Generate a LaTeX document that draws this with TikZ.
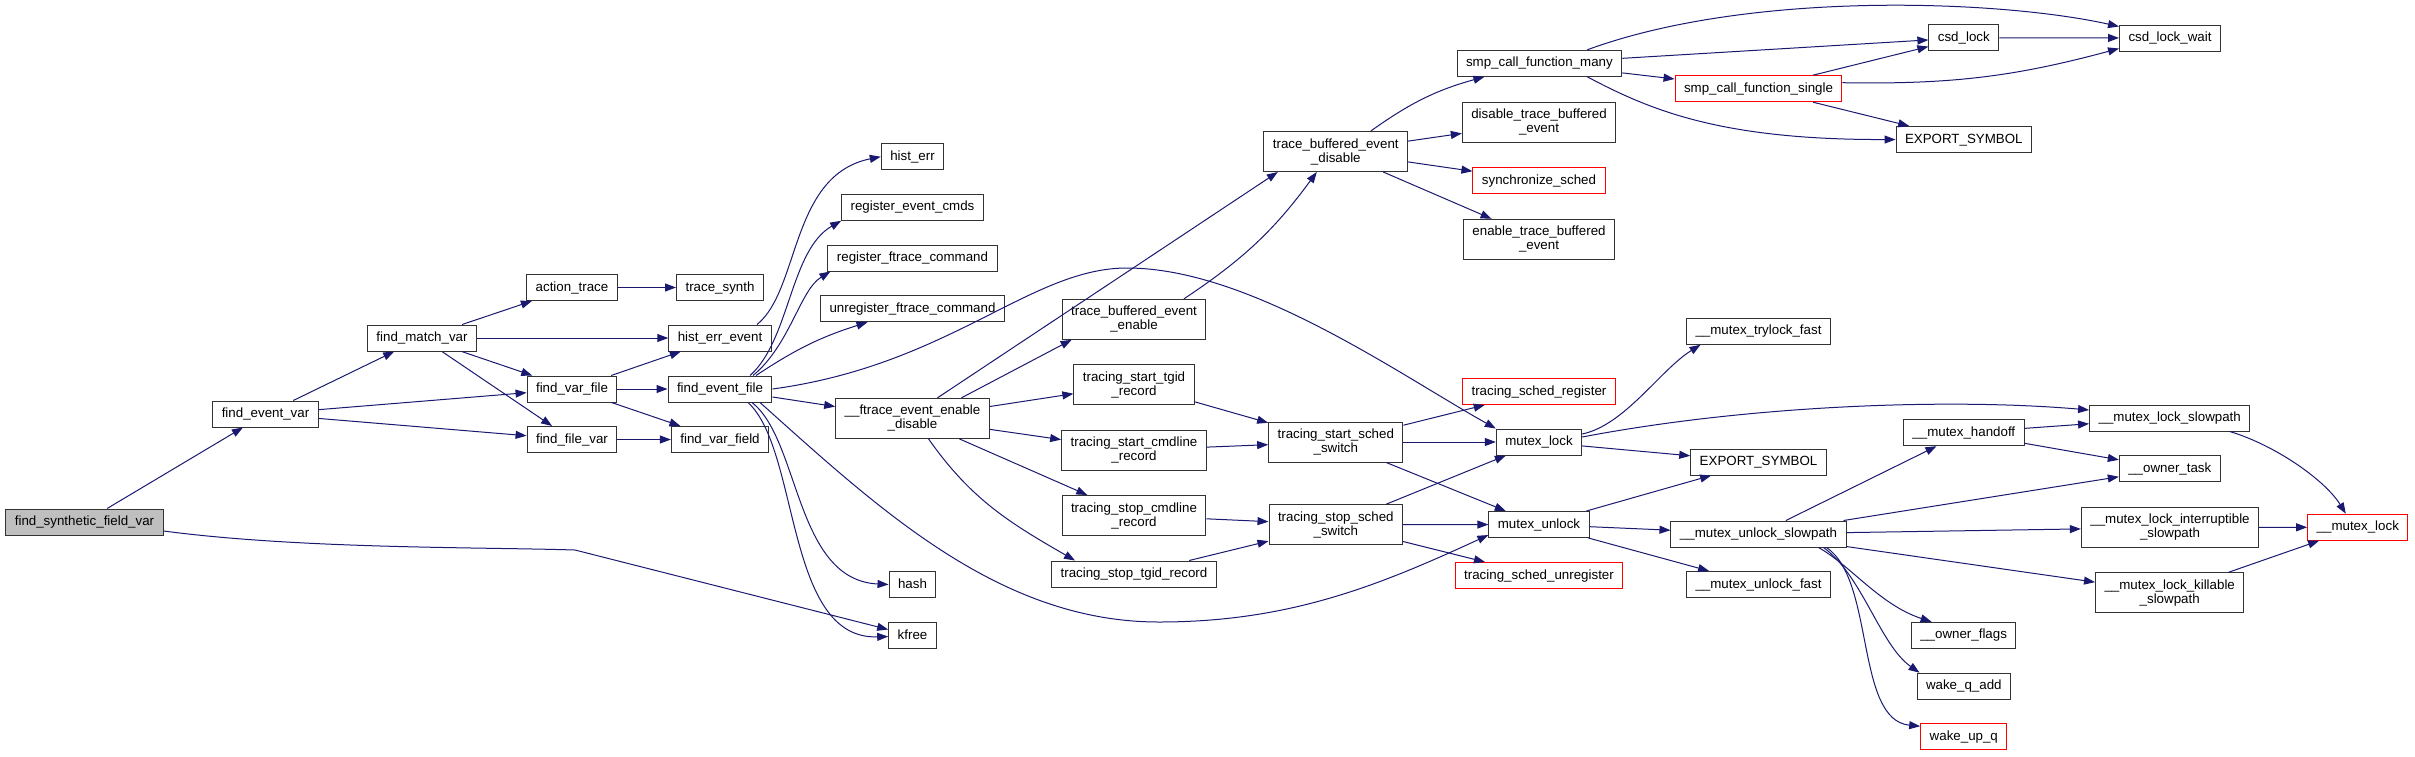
\documentclass[tikz,border=0pt]{standalone}
\usepackage{fontspec}
\setmainfont{Liberation Sans}
\usepackage{xcolor}
\usepackage{tikz}
\usetikzlibrary{arrows.meta}
\definecolor{CGblue}{RGB}{25,25,112}
\definecolor{CGgray}{RGB}{191,191,191}
\definecolor{CGred}{RGB}{255,0,0}
\tikzset{
  fn/.style={draw=black!80, line width=1pt, fill=white, inner xsep=9pt, inner ysep=0pt,
    minimum height=26pt, font=\fontsize{13.33}{14}\selectfont, text height=10pt, text depth=3pt},
  fnn/.style={draw=black!80, line width=1pt, fill=white, inner xsep=9pt, inner ysep=0pt,
    minimum height=40pt, font=\fontsize{13.33}{14}\selectfont, align=center},
  ext/.style={draw=CGred},
  root/.style={fill=CGgray},
  calls/.style={draw=CGblue, line width=1pt, -{Triangle[length=11pt,width=8pt]}}
}

\begin{document}
\begin{tikzpicture}[x=1pt, y=1pt]
        \useasboundingbox (0,0) rectangle (2415,-756);
        \node[fn, root] (synth) at (84.5,-522) {find\_synthetic\_field\_var};
        \node[fn] (evvar) at (265.5,-414) {find\_event\_var};
        \node[fn] (matchvar) at (422,-338) {find\_match\_var};
        \node[fn] (acttrace) at (572,-287.5) {action\_trace};
        \node[fn] (tsynth) at (720,-287.5) {trace\_synth};
        \node[fn] (histev) at (720,-338) {hist\_err\_event};
        \node[fn] (varfile) at (572,-389) {find\_var\_file};
        \node[fn] (evfile) at (720,-389) {find\_event\_file};
        \node[fn] (filevar) at (572,-439.5) {find\_file\_var};
        \node[fn] (varfield) at (720,-439.5) {find\_var\_field};
        \node[fn] (histerr) at (912.5,-156.7) {hist\_err};
        \node[fn] (regcmds) at (912.5,-207.3) {register\_event\_cmds};
        \node[fn] (regft) at (912.5,-258) {register\_ftrace\_command};
        \node[fn] (unregft) at (912.5,-308.7) {unregister\_ftrace\_command};
        \node[fnn] (ftrace) at (912.5,-418.3) {\_\_ftrace\_event\_enable\\\_disable};
        \node[fn] (hash) at (912.5,-584.5) {hash};
        \node[fn] (kfree) at (912.5,-635.5) {kfree};
        \node[fnn] (tbeenable) at (1134,-319.3) {trace\_buffered\_event\\\_enable};
        \node[fnn] (startgid) at (1134,-384.5) {tracing\_start\_tgid\\\_record};
        \node[fnn] (startcmd) at (1134,-450) {tracing\_start\_cmdline\\\_record};
        \node[fnn] (stopcmd) at (1134,-515.5) {tracing\_stop\_cmdline\\\_record};
        \node[fn] (stopgid) at (1134,-574) {tracing\_stop\_tgid\_record};
        \node[fnn] (tbedisable) at (1335.8,-151.5) {trace\_buffered\_event\\\_disable};
        \node[fnn] (startsw) at (1335.8,-442) {tracing\_start\_sched\\\_switch};
        \node[fnn] (stopsw) at (1335.8,-524.7) {tracing\_stop\_sched\\\_switch};
        \node[fn] (smpmany) at (1539.4,-63.3) {smp\_call\_function\_many};
        \node[fnn] (distbe) at (1539,-122.3) {disable\_trace\_buffered\\\_event};
        \node[fn, ext] (syncsched) at (1539,-180.8) {synchronize\_sched};
        \node[fnn] (entbe) at (1539,-239.3) {enable\_trace\_buffered\\\_event};
        \node[fn, ext] (schedreg) at (1539,-391.5) {tracing\_sched\_register};
        \node[fn] (mlock) at (1539,-442) {mutex\_lock};
        \node[fn] (munlock) at (1539,-524.5) {mutex\_unlock};
        \node[fn, ext] (schedunreg) at (1539,-575.5) {tracing\_sched\_unregister};
        \node[fn, ext] (smpsingle) at (1758.5,-88.7) {smp\_call\_function\_single};
        \node[fn] (trylock) at (1758.5,-331.3) {\_\_mutex\_trylock\_fast};
        \node[fn] (exportb) at (1758.5,-462) {EXPORT\_SYMBOL};
        \node[fn] (unlockslow) at (1758.5,-534) {\_\_mutex\_unlock\_slowpath};
        \node[fn] (unlockfast) at (1758.5,-584.5) {\_\_mutex\_unlock\_fast};
        \node[fn] (csdlock) at (1963.8,-37.8) {csd\_lock};
        \node[fn] (exportt) at (1963.8,-139.5) {EXPORT\_SYMBOL};
        \node[fn] (handoff) at (1963.8,-432.7) {\_\_mutex\_handoff};
        \node[fn] (ownflags) at (1963.6,-635.3) {\_\_owner\_flags};
        \node[fn] (wakeadd) at (1963.8,-686.2) {wake\_q\_add};
        \node[fn, ext] (wakeup) at (1963.8,-736.7) {wake\_up\_q};
        \node[fn] (csdwait) at (2170,-38) {csd\_lock\_wait};
        \node[fn] (lockslow) at (2169.7,-418) {\_\_mutex\_lock\_slowpath};
        \node[fn] (owntask) at (2169.8,-468.7) {\_\_owner\_task};
        \node[fnn] (lockintr) at (2170,-527.5) {\_\_mutex\_lock\_interruptible\\\_slowpath};
        \node[fnn] (lockkill) at (2169.7,-592.8) {\_\_mutex\_lock\_killable\\\_slowpath};
        \node[fn, ext] (mlockred) at (2357.8,-527.2) {\_\_mutex\_lock};
        \draw[calls] (synth) -- (evvar);
        \draw[calls] ([yshift=-9pt]synth.east) .. controls (300,-549) and (480,-547)
          .. (575,-550) -- ([yshift=6pt]kfree.west);
        \draw[calls] (evvar) -- (matchvar);
        \draw[calls] (evvar) -- (varfile);
        \draw[calls] (evvar) -- (filevar);
        \draw[calls] (matchvar) -- (acttrace);
        \draw[calls] (matchvar) -- (histev);
        \draw[calls] (matchvar) -- (varfile);
        \draw[calls] (matchvar) -- (filevar);
        \draw[calls] (acttrace) -- (tsynth);
        \draw[calls] (varfile) -- (histev);
        \draw[calls] (varfile) -- (evfile);
        \draw[calls] (varfile) -- (varfield);
        \draw[calls] (filevar) -- (varfield);
        \draw[calls] ([xshift=37pt]histev.north) .. controls (800,-290) and (790,-175) .. (histerr.west);
        \draw[calls] ([xshift=30pt]evfile.north) .. controls (790,-340) and (790,-250) .. (regcmds.south west);
        \draw[calls] ([xshift=33pt]evfile.north) .. controls (790,-345) and (800,-290)
          .. ([xshift=3pt]regft.south west);
        \draw[calls] ([xshift=36pt]evfile.north) to[bend left=8] ([xshift=-45pt]unregft.south);
        \draw[calls] (evfile) -- (ftrace);
        \draw[calls] (evfile.east) .. controls (950,-365) and (1030,-268) .. (1127,-268)
          .. controls (1250,-268) and (1400,-375) .. (mlock.north west);
        \draw[calls] ([xshift=40pt]evfile.south) .. controls (880,-510) and (1000,-622) .. (1159,-622)
          .. controls (1290,-622) and (1380,-585) .. ([yshift=3pt]munlock.south west);
        \draw[calls] ([xshift=32pt]evfile.south) .. controls (800,-440) and (795,-580) .. (hash.west);
        \draw[calls] ([xshift=28pt]evfile.south) .. controls (800,-450) and (785,-640)
          .. ([yshift=-1pt]kfree.west);
        \draw[calls] ([xshift=25pt]ftrace.north) -- ([xshift=-58pt]tbedisable.south);
        \draw[calls] ([xshift=49pt]ftrace.north) -- ([xshift=10pt]tbeenable.south west);
        \draw[calls] (ftrace) -- (startgid);
        \draw[calls] (ftrace) -- (startcmd);
        \draw[calls] (ftrace) -- (stopcmd);
        \draw[calls] ([xshift=16pt]ftrace.south) to[out=-55, in=150] ([xshift=-59pt]stopgid.north);
        \draw[calls] ([xshift=50pt]tbeenable.north) to[bend right=10] ([xshift=-19pt]tbedisable.south);
        \draw[calls] ([xshift=35pt]tbedisable.north) to[bend left=10] ([xshift=-55pt]smpmany.south);
        \draw[calls] (tbedisable) -- (distbe);
        \draw[calls] (tbedisable) -- (syncsched);
        \draw[calls] (tbedisable) -- (entbe);
        \draw[calls] ([xshift=-35pt]smpmany.north east) .. controls (1750,10) and (2000,0)
          .. ([yshift=-2pt]csdwait.north west);
        \draw[calls] (smpmany) -- (csdlock);
        \draw[calls] (smpmany) -- (smpsingle);
        \draw[calls] ([xshift=-35pt]smpmany.south east) .. controls (1650,-110) and (1720,-140) .. (exportt.west);
        \draw[calls] (smpsingle) -- (csdlock);
        \draw[calls] ([yshift=6pt]smpsingle.east) to[bend right=8] ([yshift=3pt]csdwait.south west);
        \draw[calls] (smpsingle) -- (exportt);
        \draw[calls] (csdlock) -- (csdwait);
        \draw[calls] (startgid) -- (startsw);
        \draw[calls] (startcmd) -- (startsw);
        \draw[calls] (stopcmd) -- (stopsw);
        \draw[calls] (stopgid) -- (stopsw);
        \draw[calls] (startsw) -- (schedreg);
        \draw[calls] (startsw) -- (mlock);
        \draw[calls] (startsw) -- (munlock);
        \draw[calls] (stopsw) -- (mlock);
        \draw[calls] (stopsw) -- (munlock);
        \draw[calls] (stopsw) -- (schedunreg);
        \draw[calls] ([yshift=8pt]mlock.east) .. controls (1625,-425) and (1660,-370)
          .. ([xshift=-58pt]trylock.south);
        \draw[calls] ([yshift=5pt]mlock.east) .. controls (1750,-405) and (1950,-398)
          .. ([yshift=8pt]lockslow.west);
        \draw[calls] (mlock) -- (exportb);
        \draw[calls] (munlock) -- (exportb);
        \draw[calls] (munlock) -- (unlockslow);
        \draw[calls] (munlock) -- (unlockfast);
        \draw[calls] (unlockslow) -- (handoff);
        \draw[calls] (unlockslow) -- (owntask);
        \draw[calls] (unlockslow) -- (lockintr);
        \draw[calls] (unlockslow) -- (lockkill);
        \draw[calls] ([xshift=60pt]unlockslow.south) .. controls (1850,-565) and (1880,-605)
          .. ([xshift=-32pt]ownflags.north);
        \draw[calls] ([xshift=65pt]unlockslow.south) .. controls (1862,-575) and (1880,-645)
          .. ([xshift=3pt]wakeadd.north west);
        \draw[calls] ([xshift=68pt]unlockslow.south) .. controls (1875,-580) and (1855,-720)
          .. ([yshift=-3pt]wakeup.north west);
        \draw[calls] (handoff) -- (lockslow);
        \draw[calls] (handoff) -- (owntask);
        \draw[calls] ([xshift=60pt]lockslow.south) .. controls (2275,-445) and (2325,-480)
          .. ([xshift=-12pt]mlockred.north);
        \draw[calls] (lockintr) -- (mlockred);
        \draw[calls] (lockkill) -- (mlockred);
      \end{tikzpicture}
\end{document}
